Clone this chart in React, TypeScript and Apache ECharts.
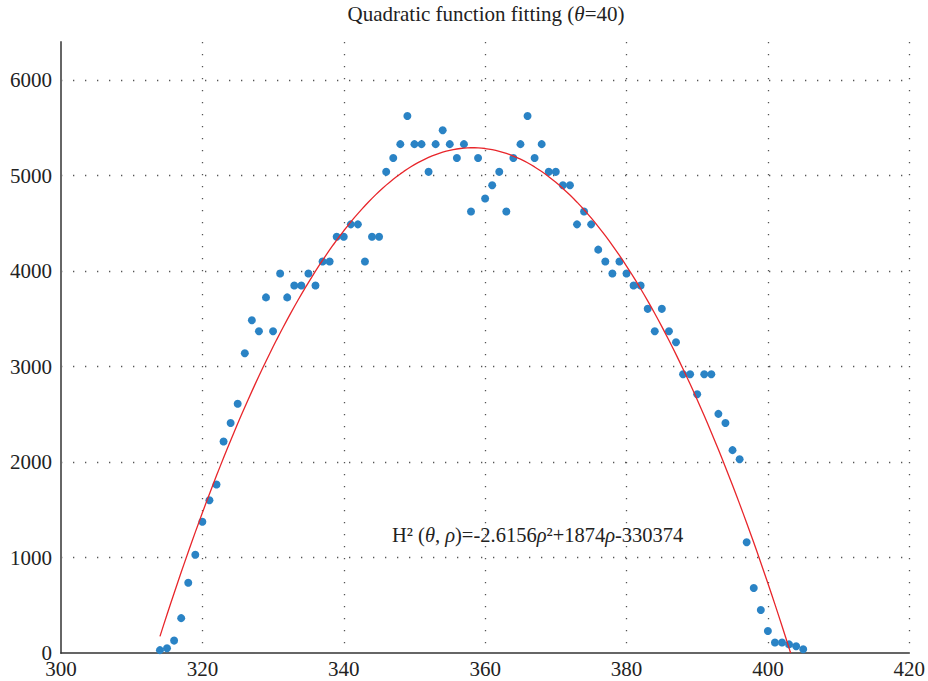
import React, { useEffect, useRef } from "react";
import * as echarts from "echarts";

const rhoValues = [
  314, 315, 316, 317, 318, 319, 320, 321, 322, 323, 324, 325, 326, 327, 328, 329,
  330, 331, 332, 333, 334, 335, 336, 337, 338, 339, 340, 341, 342, 343, 344, 345,
  346, 347, 348, 349, 350, 351, 352, 353, 354, 355, 356, 357, 358, 359, 360, 361,
  362, 363, 364, 365, 366, 367, 368, 369, 370, 371, 372, 373, 374, 375, 376, 377,
  378, 379, 380, 381, 382, 383, 384, 385, 386, 387, 388, 389, 390, 391, 392, 393,
  394, 395, 396, 397, 398, 399, 400, 401, 402, 403, 404, 405,
];
const hValues = [
  30, 50, 130, 365, 735, 1030, 1375, 1600, 1765, 2215, 2410, 2610, 3140, 3485, 3370, 3725,
  3370, 3975, 3725, 3850, 3850, 3975, 3850, 4100, 4100, 4360, 4360, 4490, 4490, 4100, 4360, 4360,
  5040, 5185, 5330, 5625, 5330, 5330, 5040, 5330, 5475, 5330, 5185, 5330, 4625, 5185, 4760, 4900,
  5040, 4625, 5185, 5330, 5625, 5185, 5330, 5040, 5040, 4900, 4900, 4490, 4625, 4490, 4225, 4100,
  3975, 4100, 3975, 3850, 3850, 3605, 3370, 3605, 3370, 3255, 2920, 2920, 2710, 2920, 2920, 2505,
  2410, 2125, 2030, 1160, 680, 450, 230, 110, 110, 90, 70, 40,
];
// Fitted equation shown in the chart: H^2 = a*rho^2 + b*rho + c
const fitCoefficients = [-2.6156, 1874, -330374];
const fitRange = [314, 403.22];
const xTicks = [300, 320, 340, 360, 380, 400, 420];
const yTicks = [0, 1000, 2000, 3000, 4000, 5000, 6000];

const FONT = "'Liberation Serif', 'DejaVu Serif', serif";

export default function App() {
  const ref = useRef<HTMLDivElement>(null);
  useEffect(() => {
    if (!ref.current) return;
    const chart = echarts.init(ref.current, undefined, { renderer: "svg" });
    const [a, b, c] = fitCoefficients;
    const fit: number[][] = [];
    for (let r = fitRange[0]; r < fitRange[1]; r += 0.5) fit.push([r, a * r * r + b * r + c]);
    fit.push([fitRange[1], Math.max(0, a * fitRange[1] ** 2 + b * fitRange[1] + c)]);
    const dotted = { color: "#555", width: 1.3, type: [1.3, 10.7] as any };
    chart.setOption({
      animation: false,
      backgroundColor: "#fff",
      grid: { left: 61, right: 18, top: 42, bottom: 28 },
      xAxis: {
        type: "value",
        min: xTicks[0],
        max: xTicks[xTicks.length - 1],
        interval: 20,
        axisLine: { show: true, onZero: false, lineStyle: { color: "#333", width: 1.6 } },
        axisTick: { show: false },
        axisLabel: { color: "#222", fontFamily: FONT, fontSize: 21, lineHeight: 16, margin: 8 },
        splitLine: { show: true, showMinLine: false, lineStyle: dotted },
      },
      yAxis: {
        type: "value",
        min: 0,
        max: 6400,
        interval: 1000,
        axisLine: { show: true, lineStyle: { color: "#666", width: 2 } },
        axisTick: { show: false },
        axisLabel: {
          color: "#222",
          fontFamily: FONT,
          fontSize: 21,
          lineHeight: 16,
          margin: 9,
          showMaxLabel: false,
          formatter: (v: number) => (yTicks.includes(v) ? String(v) : ""),
        },
        splitLine: { show: true, showMinLine: false, showMaxLine: false, lineStyle: dotted },
      },
      series: [
        {
          type: "scatter",
          data: rhoValues.map((r, i) => [r, hValues[i]]),
          symbolSize: 8,
          itemStyle: { color: "#2a83c5", opacity: 1 },
          z: 2,
        },
        {
          type: "line",
          data: fit,
          showSymbol: false,
          lineStyle: { color: "#e8262b", width: 1.3 },
          z: 3,
        },
      ],
      graphic: [
        {
          type: "text",
          x: 486,
          y: 14,
          style: {
            text: "{n|Quadratic function fitting (}{i|θ}{n|=40)}",
            align: "center",
            verticalAlign: "middle",
            rich: {
              n: { fontFamily: FONT, fontSize: 21, fill: "#222" },
              i: { fontFamily: FONT, fontSize: 21, fontStyle: "italic", fill: "#222" },
            },
          },
        },
        {
          type: "text",
          x: 392,
          y: 535,
          style: {
            text: "{n|H² (}{i|θ}{n|, }{i|ρ}{n|)=-2.6156}{i|ρ}{n|²+1874}{i|ρ}{n|-330374}",
            align: "left",
            verticalAlign: "middle",
            rich: {
              n: { fontFamily: FONT, fontSize: 20.5, fill: "#222", lineHeight: 22 },
              i: { fontFamily: FONT, fontSize: 20.5, fontStyle: "italic", fill: "#222", lineHeight: 22 },
            },
          },
        },
      ],
    });
    return () => chart.dispose();
  }, []);
  return <div ref={ref} style={{ width: 928, height: 681, position: "absolute", left: 0, top: 0 }} />;
}
